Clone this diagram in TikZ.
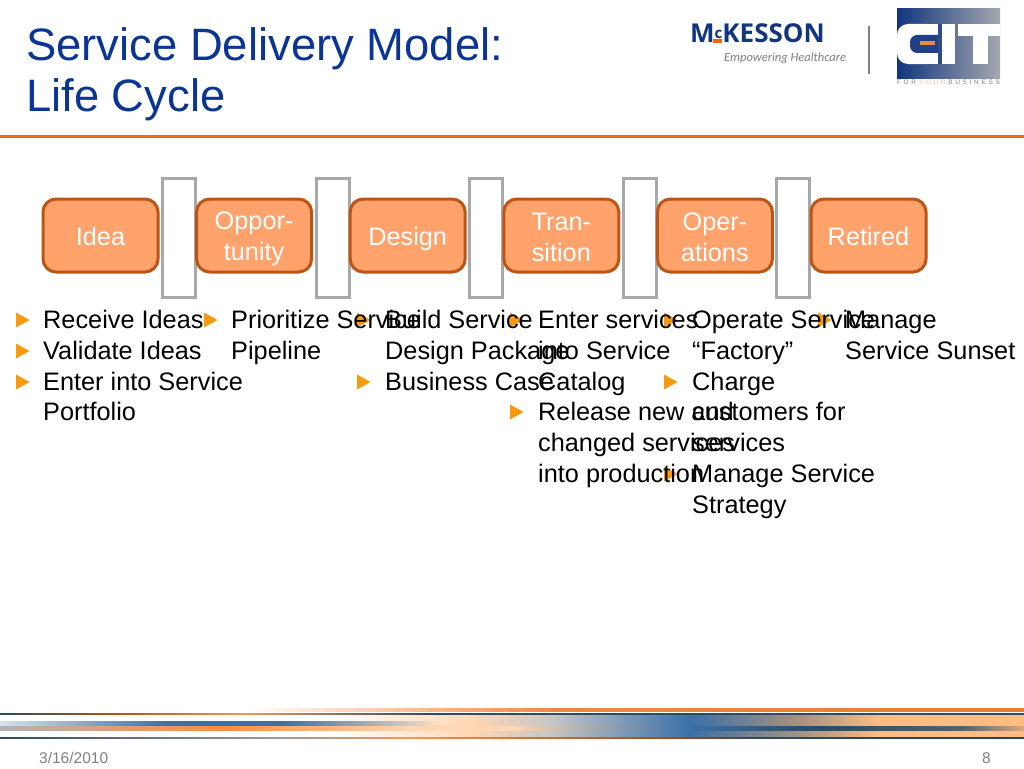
\documentclass[tikz,border=0pt]{standalone}
\usepackage{fontspec}
\setmainfont{Liberation Sans}
\newfontfamily\logofont{Open Sans}
\newfontfamily\tagfont{Carlito}
\usetikzlibrary{positioning}
\definecolor{titleblue}{HTML}{0B3595}
\definecolor{ruleorange}{HTML}{EC6A14}
\definecolor{boxfill}{HTML}{FFA26B}
\definecolor{boxline}{HTML}{BC5415}
\definecolor{gategray}{HTML}{A8A8A8}
\definecolor{markorange}{HTML}{F79A0E}
\definecolor{logoblue}{HTML}{12357F}
\definecolor{logogray}{HTML}{A4A8AE}
\definecolor{peach}{HTML}{FFBC82}
\definecolor{softorange}{HTML}{FF8C42}
\definecolor{bandblue}{HTML}{3A70A8}
\definecolor{banddark}{HTML}{2E4A5E}
\newcommand{\boxstrut}{\rule[-5pt]{0pt}{30pt}}
\pgfdeclarehorizontalshading{toprule}{100bp}{color(0bp)=(white); color(37bp)=(white); color(52bp)=(ruleorange!80); color(100bp)=(ruleorange)}
\pgfdeclarehorizontalshading{upperline}{100bp}{color(0bp)=(banddark); color(25bp)=(banddark); color(31bp)=(ruleorange!80!black); color(37bp)=(ruleorange!70); color(46bp)=(banddark); color(100bp)=(banddark)}
\pgfdeclarehorizontalshading{mainband}{100bp}{color(0bp)=(white); color(41bp)=(white); color(48bp)=(peach!60); color(52bp)=(gray!45); color(58.7bp)=(bandblue); color(64bp)=(gray!70!peach); color(68bp)=(peach); color(100bp)=(peach)}
\pgfdeclarehorizontalshading{blueband}{100bp}{color(0bp)=(white!80!bandblue); color(25bp)=(white!80!bandblue); color(44bp)=(bandblue); color(57bp)=(bandblue); color(75bp)=(peach!47); color(100bp)=(peach!47)}
\pgfdeclarehorizontalshading{orangeband}{100bp}{color(0bp)=(gray!60); color(25bp)=(gray!60); color(36bp)=(softorange); color(45bp)=(peach!60); color(50bp)=(peach!60); color(58.7bp)=(bandblue); color(65bp)=(banddark); color(72bp)=(banddark!80!peach); color(75bp)=(peach!70!gray); color(100bp)=(peach)}
\pgfdeclarehorizontalshading{lowerline}{100bp}{color(0bp)=(banddark); color(25bp)=(banddark); color(38bp)=(gray!80); color(45bp)=(ruleorange!70); color(58bp)=(ruleorange!70!black); color(62bp)=(banddark); color(100bp)=(banddark!80!black)}
\pgfdeclarehorizontalshading{logoback}{100bp}{color(0bp)=(logoblue); color(25bp)=(logoblue); color(75bp)=(logogray); color(100bp)=(logogray)}
\begin{document}
\begin{tikzpicture}[x=1pt, y=-1pt,
    phasebox/.style={draw=boxline, fill=boxfill, line width=3pt, rounded corners=13pt, minimum width=115pt, minimum height=73pt, inner sep=0pt, align=center, text=white, font=\fontsize{25.3}{31}\selectfont},
    gatebox/.style={draw=gategray, fill=white, line width=3pt, minimum width=33pt, minimum height=119pt, inner sep=0pt},
    itemtext/.style={anchor=base west, inner sep=0pt, align=left, font=\fontsize{25.3}{30.8}\selectfont, text=black},
    footertext/.style={anchor=base, inner sep=0pt, text=gray, font=\fontsize{15.5}{18}\selectfont}]
  \useasboundingbox (0, 0) rectangle (1024, 768);
  \fill[white] (0, 0) rectangle (1024, 768);
  % heading
  \node[anchor=base west, inner sep=0pt, align=left, text=titleblue, font=\fontsize{45.4}{51}\selectfont] (heading) at (26, 111) {Service Delivery Model:\\Life Cycle};
  \fill[ruleorange] (0, 135) rectangle (1024, 138);
  % logos
  \node[anchor=base west, inner sep=0pt, text=logoblue, font=\logofont\bfseries\fontsize{26}{26}\selectfont] (mckesson) at (690, 43) {M\raisebox{5pt}{\fontsize{15}{15}\selectfont c}KESSON};
  \fill[ruleorange] (713, 39.5) rectangle (722, 43);
  \node[anchor=base west, inner sep=0pt, text=gray, font=\tagfont\itshape\fontsize{12.5}{14}\selectfont] (tagline) at (724, 61) {Empowering Healthcare};
  \draw[gray, line width=2pt] (869, 26) -- (869, 74);
  \shade[shading=logoback] (897, 9) rectangle (1000, 78);
  \fill[white, rounded corners=11pt] (897, 24) -- (938, 24) -- (938, 64) -- (897, 64) -- cycle;
  \fill[white] (925, 24) rectangle (938, 64);
  \fill[white] (958, 24) rectangle (1000, 36);
  \fill[white] (973, 24) rectangle (988, 64);
  \fill[logoblue!90!logogray, rounded corners=7pt] (910, 35) -- (950, 35) -- (950, 53) -- (910, 53) -- cycle;
  \fill[logoblue!80!logogray] (938, 24) rectangle (942, 64);
  \fill[white] (942, 24) rectangle (955, 64);
  \fill[ruleorange!80] (920, 41.5) rectangle (935, 45);
  \node[inner sep=0pt, text=gray, font=\fontsize{6.5}{7}\selectfont] (slogan) at (948.5, 82) {\makebox[103pt][s]{F\hfill O\hfill R\hfill\textcolor{peach}{Y\hfill O\hfill U\hfill R}\hfill B\hfill U\hfill S\hfill I\hfill N\hfill E\hfill S\hfill S}};
  % gates and phases
  \foreach \gatename/\gatex in {gatea/179, gateb/332.6, gatec/486.2, gated/639.8, gatee/793.4}
    \node[gatebox] (\gatename) at (\gatex, 238) {};
  \foreach \boxname/\boxx/\boxtext in {idea/100.5/{\boxstrut Idea}, opportunity/254.1/{\boxstrut Oppor-\\\boxstrut tunity}, design/407.7/{\boxstrut Design}, transition/561.3/{\boxstrut Tran-\\\boxstrut sition}, operations/714.9/{\boxstrut Oper-\\\boxstrut ations}, retired/868.5/{\boxstrut Retired}}
    \node[phasebox] (\boxname) at (\boxx, 235.5) {\boxtext};
  % bullets
  \foreach \markx/\marky in {16/320, 16/351, 16/382, 204/320, 357/320, 357/382, 510/320, 510/412, 664/320, 664/382, 664/474, 818/320}
    \fill[markorange] (\markx, \marky-7.5) -- ++(13.5, 7.5) -- ++(-13.5, 7.5) -- cycle;
  % items
  \node[itemtext] (ideatext) at (43, 420.9) {Receive Ideas\\Validate Ideas\\Enter into Service\\Portfolio};
  \node[itemtext] (opportunitytext) at (231, 359.3) {Prioritize Service\\Pipeline};
  \node[itemtext] (designtext) at (385, 390.1) {Build Service\\Design Package\\Business Case};
  \node[itemtext] (transitiontext) at (538, 482.5) {Enter services\\into Service\\Catalog\\Release new and\\changed services\\into production};
  \node[itemtext] (operationstext) at (692, 513.3) {Operate Service\\“Factory”\\Charge\\customers for\\services\\Manage Service\\Strategy};
  \node[itemtext] (retiredtext) at (845, 359.3) {Manage\\Service Sunset};
  % footer band
  \shade[shading=toprule] (0, 708) rectangle (1024, 711);
  \shade[shading=mainband] (0, 714) rectangle (1024, 737);
  \shade[shading=upperline] (0, 713) rectangle (1024, 714.5);
  \shade[shading=blueband] (0, 721) rectangle (440, 725);
  \shade[shading=orangeband] (0, 726) rectangle (1024, 730);
  \shade[shading=lowerline] (0, 737) rectangle (1024, 738.5);
  \node[footertext, anchor=base west] (datetext) at (39, 763) {3/16/2010};
  \node[footertext, anchor=base east] (pagetext) at (991, 763) {8};
\end{tikzpicture}
\end{document}
